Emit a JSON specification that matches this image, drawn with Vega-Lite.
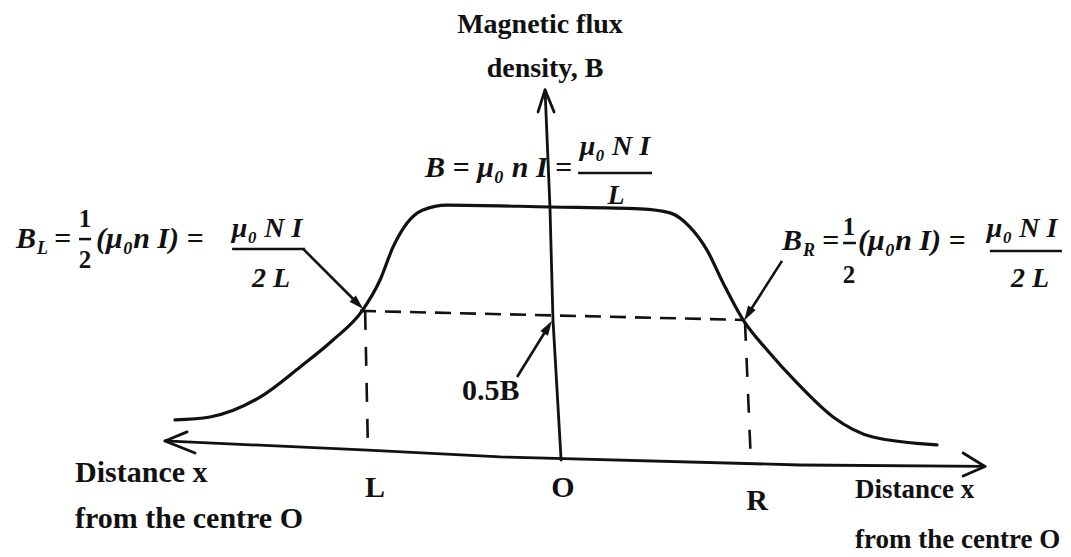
{
  "$schema": "https://vega.github.io/schema/vega-lite/v6.json",
  "width": 1071,
  "height": 557,
  "autosize": {"type": "none"},
  "padding": 0,
  "background": "white",
  "config": {
    "view": {"stroke": null},
    "text": {"font": "Liberation Serif", "fontWeight": "bold", "color": "#111111", "baseline": "alphabetic"}
  },
  "datasets": {
    "curve": [
      {"x": -2.032, "y": 0.131}, {"x": -1.847, "y": 0.143}, {"x": -1.582, "y": 0.224},
      {"x": -1.370, "y": 0.347}, {"x": -1.196, "y": 0.457}, {"x": -1.042, "y": 0.576},
      {"x": -0.947, "y": 0.702}, {"x": -0.878, "y": 0.837}, {"x": -0.804, "y": 0.935},
      {"x": -0.720, "y": 0.988}, {"x": -0.593, "y": 1.008}, {"x": -0.048, "y": 1.0},
      {"x": 0.429, "y": 0.992}, {"x": 0.587, "y": 0.976}, {"x": 0.693, "y": 0.918},
      {"x": 0.783, "y": 0.824}, {"x": 0.868, "y": 0.690}, {"x": 0.974, "y": 0.539},
      {"x": 1.101, "y": 0.416}, {"x": 1.259, "y": 0.282}, {"x": 1.450, "y": 0.143},
      {"x": 1.661, "y": 0.061}, {"x": 2.000, "y": 0.029}
    ],
    "axes": [
      {"s": "h", "o": 1, "x": -2.085, "y": 0.045}, {"s": "h", "o": 2, "x": -1.011, "y": 0.008},
      {"s": "h", "o": 3, "x": -0.312, "y": -0.020}, {"s": "h", "o": 4, "x": 1.275, "y": -0.053},
      {"s": "h", "o": 5, "x": 2.254, "y": -0.059},
      {"s": "hl", "o": 1, "x": -1.968, "y": 0.082}, {"s": "hl", "o": 2, "x": -2.085, "y": 0.045},
      {"s": "hl", "o": 3, "x": -1.926, "y": -0.004},
      {"s": "hr", "o": 1, "x": 2.138, "y": -0.004}, {"s": "hr", "o": 2, "x": 2.254, "y": -0.059},
      {"s": "hr", "o": 3, "x": 2.138, "y": -0.098},
      {"s": "v", "o": 1, "x": -0.074, "y": 1.478}, {"s": "v", "o": 2, "x": -0.048, "y": 1.0},
      {"s": "v", "o": 3, "x": -0.032, "y": 0.539}, {"s": "v", "o": 4, "x": 0.011, "y": -0.033},
      {"s": "vt", "o": 1, "x": -0.111, "y": 1.388}, {"s": "vt", "o": 2, "x": -0.074, "y": 1.478},
      {"s": "vt", "o": 3, "x": -0.026, "y": 1.388}
    ],
    "dashH": [
      {"x": -1.053, "y": 0.576}, {"x": 0.984, "y": 0.539}
    ],
    "dashV": [
      {"s": "L", "x": -1.026, "y": 0.576}, {"s": "L", "x": -1.011, "y": 0.008},
      {"s": "R", "x": 0.984, "y": 0.531}, {"s": "R", "x": 1.016, "y": -0.053}
    ],
    "arrows": [
      {"s": "a", "o": 1, "x": -1.354, "y": 0.829}, {"s": "a", "o": 2, "x": -1.064, "y": 0.605},
      {"s": "b", "o": 1, "x": 1.180, "y": 0.780}, {"s": "b", "o": 2, "x": 1.000, "y": 0.563},
      {"s": "c", "o": 1, "x": -0.222, "y": 0.306}, {"s": "c", "o": 2, "x": -0.058, "y": 0.510}
    ],
    "heads": [
      {"s": "a", "x": -1.064, "y": 0.605},
      {"s": "b", "x": 1.000, "y": 0.563},
      {"s": "c", "x": -0.058, "y": 0.510}
    ],
    "bars": [
      {"x": 0.101, "x2": 0.492, "y": 1.139},
      {"x": -2.540, "x2": -2.476, "y": 0.869},
      {"x": -1.730, "x2": -1.344, "y": 0.829},
      {"x": 1.503, "x2": 1.571, "y": 0.853},
      {"x": 2.280, "x2": 2.661, "y": 0.820}
    ],
    "texts": [
      {"g": "plainL", "t": "Distance x", "x": -2.561, "y": -0.122},
      {"g": "plainL", "t": "from the centre O", "x": -2.561, "y": -0.310},
      {"g": "plainR", "t": "Distance x", "x": 1.566, "y": -0.188},
      {"g": "plainR", "t": "from the centre O", "x": 1.566, "y": -0.392},
      {"g": "plainL", "t": "0.5B", "x": -0.513, "y": 0.212},
      {"g": "plainC", "t": "L", "x": -0.974, "y": -0.184},
      {"g": "plainC", "t": "O", "x": 0.021, "y": -0.184},
      {"g": "plainC", "t": "R", "x": 1.048, "y": -0.237},
      {"g": "title", "t": "Magnetic flux", "x": -0.101, "y": 1.710},
      {"g": "title", "t": "density, B", "x": -0.074, "y": 1.531},
      {"g": "mathL", "t": "B = μ₀ n I", "x": -0.709, "y": 1.122},
      {"g": "mathL", "t": "=", "x": -0.021, "y": 1.122},
      {"g": "mathL", "t": "B", "x": -2.873, "y": 0.833},
      {"g": "mathL", "t": "=", "x": -2.672, "y": 0.833},
      {"g": "mathL", "t": "(μ₀n I) =", "x": -2.450, "y": 0.833},
      {"g": "mathL", "t": "B", "x": 1.180, "y": 0.824},
      {"g": "mathL", "t": "=", "x": 1.392, "y": 0.824},
      {"g": "mathL", "t": "(μ₀n I) =", "x": 1.582, "y": 0.824},
      {"g": "sub", "t": "L", "x": -2.762, "y": 0.808},
      {"g": "sub", "t": "R", "x": 1.291, "y": 0.800},
      {"g": "half", "t": "1", "x": -2.508, "y": 0.918},
      {"g": "half", "t": "2", "x": -2.508, "y": 0.751},
      {"g": "half", "t": "1", "x": 1.534, "y": 0.886},
      {"g": "half", "t": "2", "x": 1.534, "y": 0.690},
      {"g": "frac", "t": "μ₀ N I", "x": 0.296, "y": 1.212},
      {"g": "frac", "t": "L", "x": 0.302, "y": 1.012},
      {"g": "frac", "t": "μ₀ N I", "x": -1.545, "y": 0.878},
      {"g": "frac", "t": "2 L", "x": -1.524, "y": 0.673},
      {"g": "frac", "t": "μ₀ N I", "x": 2.450, "y": 0.878},
      {"g": "frac", "t": "2 L", "x": 2.492, "y": 0.673}
    ]
  },
  "encoding": {
    "x": {"field": "x", "type": "quantitative", "scale": {"domain": [-2.958, 2.709], "nice": false, "zero": false}, "axis": null},
    "y": {"field": "y", "type": "quantitative", "scale": {"domain": [-0.4286, 1.8449], "nice": false, "zero": false}, "axis": null}
  },
  "layer": [
    {
      "data": {"name": "dashH"},
      "mark": {"type": "line", "color": "#111111", "strokeWidth": 2.6, "strokeDash": [16, 9]},
      "encoding": {}
    },
    {
      "data": {"name": "dashV"},
      "mark": {"type": "line", "color": "#111111", "strokeWidth": 2.6, "strokeDash": [19, 17]},
      "encoding": {"detail": {"field": "s", "type": "nominal"}}
    },
    {
      "data": {"name": "axes"},
      "mark": {"type": "line", "color": "#111111", "strokeWidth": 2.8, "strokeCap": "round", "strokeJoin": "round"},
      "encoding": {"detail": {"field": "s", "type": "nominal"}, "order": {"field": "o", "type": "quantitative"}}
    },
    {
      "data": {"name": "curve"},
      "mark": {"type": "line", "color": "#111111", "strokeWidth": 3.2, "interpolate": "monotone", "strokeCap": "round"},
      "encoding": {}
    },
    {
      "data": {"name": "arrows"},
      "mark": {"type": "line", "color": "#111111", "strokeWidth": 2.6},
      "encoding": {"detail": {"field": "s", "type": "nominal"}, "order": {"field": "o", "type": "quantitative"}}
    },
    {
      "data": {"name": "heads"},
      "transform": [{"filter": "datum.s == 'a'"}],
      "mark": {"type": "point", "shape": "M0,-1L0.6,1L-0.6,1Z", "filled": true, "fill": "#111111", "strokeWidth": 0, "size": 220, "angle": 135, "opacity": 1},
      "encoding": {}
    },
    {
      "data": {"name": "heads"},
      "transform": [{"filter": "datum.s == 'b'"}],
      "mark": {"type": "point", "shape": "M0,-1L0.6,1L-0.6,1Z", "filled": true, "fill": "#111111", "strokeWidth": 0, "size": 220, "angle": 211, "opacity": 1},
      "encoding": {}
    },
    {
      "data": {"name": "heads"},
      "transform": [{"filter": "datum.s == 'c'"}],
      "mark": {"type": "point", "shape": "M0,-1L0.6,1L-0.6,1Z", "filled": true, "fill": "#111111", "strokeWidth": 0, "size": 220, "angle": 32, "opacity": 1},
      "encoding": {}
    },
    {
      "data": {"name": "bars"},
      "mark": {"type": "rule", "color": "#111111", "strokeWidth": 2.5},
      "encoding": {"x2": {"field": "x2"}}
    },
    {
      "data": {"name": "texts"},
      "transform": [{"filter": "datum.g == 'plainL'"}],
      "mark": {"type": "text", "align": "left", "fontSize": 30},
      "encoding": {"text": {"field": "t"}}
    },
    {
      "data": {"name": "texts"},
      "transform": [{"filter": "datum.g == 'plainR'"}],
      "mark": {"type": "text", "align": "left", "fontSize": 27},
      "encoding": {"text": {"field": "t"}}
    },
    {
      "data": {"name": "texts"},
      "transform": [{"filter": "datum.g == 'plainC'"}],
      "mark": {"type": "text", "align": "center", "fontSize": 30},
      "encoding": {"text": {"field": "t"}}
    },
    {
      "data": {"name": "texts"},
      "transform": [{"filter": "datum.g == 'title'"}],
      "mark": {"type": "text", "align": "center", "fontSize": 28},
      "encoding": {"text": {"field": "t"}}
    },
    {
      "data": {"name": "texts"},
      "transform": [{"filter": "datum.g == 'mathL'"}],
      "mark": {"type": "text", "align": "left", "fontSize": 30, "fontStyle": "italic"},
      "encoding": {"text": {"field": "t"}}
    },
    {
      "data": {"name": "texts"},
      "transform": [{"filter": "datum.g == 'sub'"}],
      "mark": {"type": "text", "align": "left", "fontSize": 18, "fontStyle": "italic"},
      "encoding": {"text": {"field": "t"}}
    },
    {
      "data": {"name": "texts"},
      "transform": [{"filter": "datum.g == 'half'"}],
      "mark": {"type": "text", "align": "center", "fontSize": 25},
      "encoding": {"text": {"field": "t"}}
    },
    {
      "data": {"name": "texts"},
      "transform": [{"filter": "datum.g == 'frac'"}],
      "mark": {"type": "text", "align": "center", "fontSize": 28, "fontStyle": "italic"},
      "encoding": {"text": {"field": "t"}}
    }
  ]
}
